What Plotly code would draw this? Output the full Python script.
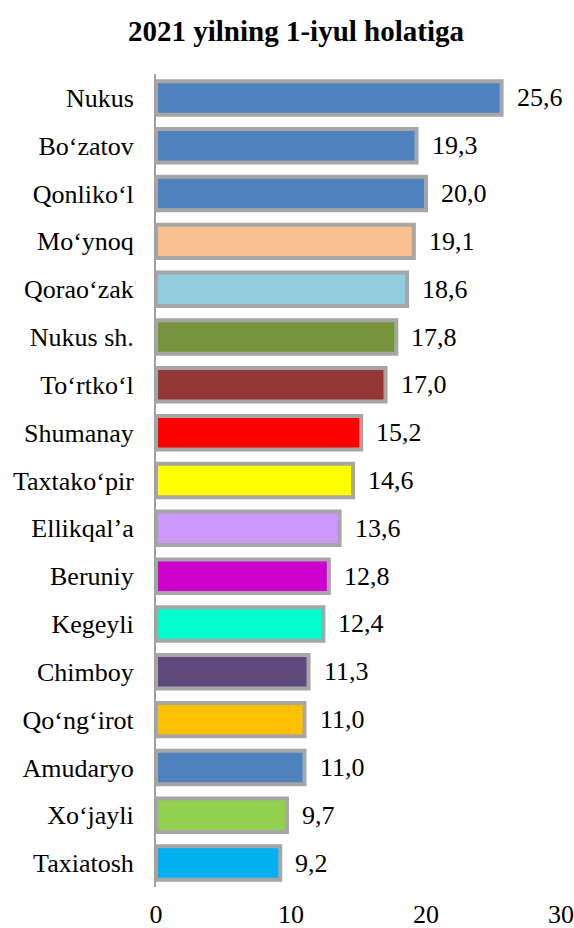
import plotly.graph_objects as go

categories = ["Nukus", "Bo‘zatov", "Qonliko‘l", "Mo‘ynoq", "Qorao‘zak", "Nukus sh.",
              "To‘rtko‘l", "Shumanay", "Taxtako‘pir", "Ellikqal’a", "Beruniy", "Kegeyli",
              "Chimboy", "Qo‘ng‘irot", "Amudaryo", "Xo‘jayli", "Taxiatosh"]
values = [25.6, 19.3, 20.0, 19.1, 18.6, 17.8, 17.0, 15.2, 14.6, 13.6, 12.8, 12.4,
          11.3, 11.0, 11.0, 9.7, 9.2]
colors = ["#4F81BD", "#4F81BD", "#4F81BD", "#FAC090", "#93CDDD", "#77933C",
          "#953735", "#FF0000", "#FFFF00", "#CC99FF", "#CC00CC", "#00FFCC",
          "#604A7B", "#FFC000", "#4F81BD", "#92D050", "#00B0F0"]
x_ticks = [0, 10, 20, 30]
title = "2021 yilning 1-iyul holatiga"

font = "Liberation Serif"

fig = go.Figure(go.Bar(
    x=values, y=categories, orientation="h",
    marker=dict(color=colors, line=dict(color="#A6A6A6", width=4)),
    width=0.7,
))

for c, v in zip(categories, values):
    fig.add_annotation(x=v, y=c, text=f"{v:.1f}".replace(".", ","),
                       xanchor="left", yanchor="middle", showarrow=False,
                       xshift=13, font=dict(family=font, size=26, color="black"))

fig.update_layout(
    width=574, height=928,
    margin=dict(l=156, r=13, t=74, b=41, autoexpand=False),
    paper_bgcolor="white", plot_bgcolor="white",
    showlegend=False,
    title=dict(text=f"<b>{title}</b>", x=296 / 574, xref="container", xanchor="center",
               y=1 - 31 / 928, yref="container", yanchor="middle",
               font=dict(family=font, size=29, color="black")),
    xaxis=dict(range=[0, 30], tickvals=x_ticks, showgrid=False, zeroline=False,
               showline=False, ticks="", ticklabelstandoff=9, automargin=False,
               tickfont=dict(family=font, size=26, color="black")),
    yaxis=dict(categoryorder="array", categoryarray=categories[::-1],
               range=[-0.5, len(categories) - 0.5], automargin=False,
               showgrid=False, zeroline=False, showline=True, linecolor="#A0A0A0",
               linewidth=2, ticks="", ticklabelstandoff=15,
               tickfont=dict(family=font, size=26, color="black")),
)

fig.write_html("out.html", config={"displayModeBar": False},
               post_script="document.body.style.margin='0';")
